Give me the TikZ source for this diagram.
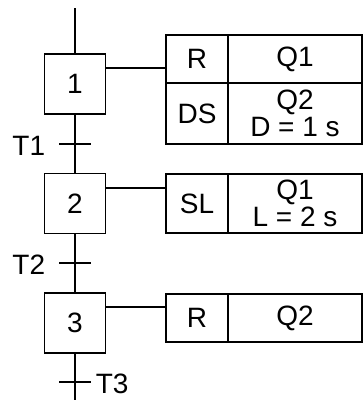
\documentclass[tikz,border=0pt]{standalone}
\usepackage{fontspec}
\setmainfont{Liberation Sans}
\begin{document}
\begin{tikzpicture}[x=1pt,y=-1pt,line width=1.7pt,
  every node/.style={font=\fontsize{28}{27}\selectfont},
  stepbox/.style={draw,rectangle,minimum width=61pt,minimum height=60pt,inner sep=0pt},
  qual/.style={draw,rectangle,minimum width=62pt,inner sep=0pt,align=center},
  act/.style={draw,rectangle,minimum width=134pt,inner sep=0pt,align=center}]
\useasboundingbox (0,0) rectangle (364,400);
% steps
\node[stepbox] (S1) at (75,84) {1};
\node[stepbox] (S2) at (75,203.5) {2};
\node[stepbox] (S3) at (75,323) {3};
\coordinate (top) at (75,8);
\coordinate (bot) at (75,400);
% transitions
\coordinate (T1) at (75,144);
\coordinate (T2) at (75,263);
\coordinate (T3) at (75,382);
\node[anchor=east,inner sep=2pt] (L1) at (48,146) {T1};
\node[anchor=east,inner sep=2pt] (L2) at (48,265) {T2};
\node[anchor=west,inner sep=2pt] (L3) at (93,384) {T3};
% actions
\node[qual,minimum height=48pt] (A1q) at (197,59) {R};
\node[act,minimum height=48pt] (A1a) at (295,59) {Q1};
\node[qual,minimum height=61pt] (A2q) at (197,113.5) {DS};
\node[act,minimum height=61pt] (A2a) at (295,113.5) {Q2\\D = 1 s};
\node[qual,minimum height=59pt] (A3q) at (197,203.5) {SL};
\node[act,minimum height=59pt] (A3a) at (295,203.5) {Q1\\L = 2 s};
\node[qual,minimum height=48pt] (A4q) at (197,318) {R};
\node[act,minimum height=48pt] (A4a) at (295,318) {Q2};
% links
\draw (top) -- (S1.north);
\draw (S1.south) -- (S2.north);
\draw (S2.south) -- (S3.north);
\draw (S3.south) -- (bot);
\foreach \t in {T1,T2,T3}
  \draw ([xshift=-16pt]\t) -- ([xshift=16pt]\t);
\draw ([yshift=-15pt]S1.north east) -- ([yshift=-15pt]S1.north east -| A1q.west);
\draw ([yshift=-15pt]S2.north east) -- ([yshift=-15pt]S2.north east -| A3q.west);
\draw ([yshift=-15pt]S3.north east) -- ([yshift=-15pt]S3.north east -| A4q.west);
\end{tikzpicture}
\end{document}
